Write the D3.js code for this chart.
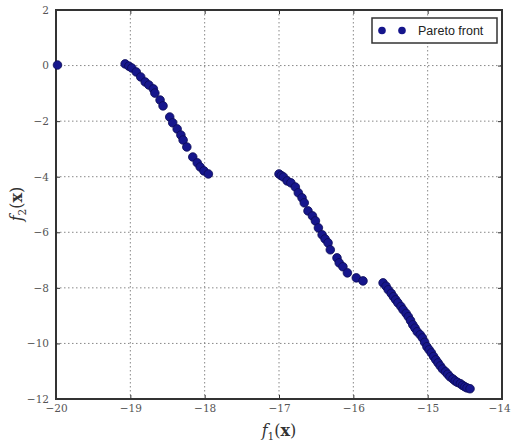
<!DOCTYPE html>
<html lang="en">
<head>
<meta charset="UTF-8">
<script src="https://d3js.org/d3.v7.min.js"></script>
<title>Pareto front</title>
<style>
  body { margin: 0; background: #fff; }
  .tick text { font-family: "DejaVu Serif", serif; font-size: 10.5px; fill: #555; }
</style>
</head>
<body>
<svg id="chart" width="512" height="444"></svg>
<script>
// values
const f1 = [-19.98,
  -19.07, -19.02, -18.98, -18.92, -18.86, -18.80, -18.75, -18.69, -18.67, -18.60, -18.56,
  -18.47, -18.43, -18.37, -18.32, -18.29, -18.24, -18.16, -18.10, -18.06, -18.01, -17.95,
  -17.00, -16.97, -16.94, -16.89, -16.84, -16.78, -16.74, -16.69, -16.66, -16.61, -16.55, -16.51,
  -16.47, -16.42, -16.38, -16.34, -16.31, -16.22, -16.19, -16.14, -16.08, -15.96, -15.87,
  -15.60, -15.56, -15.53, -15.49, -15.46, -15.43, -15.40, -15.36, -15.33, -15.29, -15.26,
  -15.23, -15.20, -15.17, -15.14, -15.10, -15.07, -15.04, -15.01, -14.98,
  -14.95, -14.92, -14.89, -14.86, -14.83, -14.80, -14.76, -14.73, -14.70, -14.66, -14.63,
  -14.60, -14.56, -14.53, -14.50, -14.47, -14.43];
const f2 = [0.02,
  0.06, -0.02, -0.09, -0.23, -0.41, -0.59, -0.70, -0.84, -0.99, -1.24, -1.45,
  -1.85, -2.06, -2.28, -2.50, -2.68, -2.93, -3.29, -3.50, -3.65, -3.79, -3.90,
  -3.90, -3.96, -4.01, -4.15, -4.22, -4.37, -4.58, -4.76, -4.94, -5.23, -5.41, -5.59,
  -5.84, -6.09, -6.24, -6.38, -6.63, -6.92, -7.10, -7.24, -7.46, -7.64, -7.75,
  -7.82, -7.94, -8.07, -8.20, -8.32, -8.43, -8.54, -8.67, -8.79, -8.92, -9.04,
  -9.18, -9.33, -9.45, -9.58, -9.69, -9.80, -9.96, -10.12, -10.23,
  -10.34, -10.47, -10.59, -10.70, -10.81, -10.92, -11.02, -11.11, -11.20, -11.28, -11.35,
  -11.40, -11.45, -11.51, -11.56, -11.60, -11.63];
const xTicks = [-20, -19, -18, -17, -16, -15, -14];
const yTicks = [-12, -10, -8, -6, -4, -2, 0, 2];
const legendLabel = "Pareto front";

const svg = d3.select("#chart");
const margin = { top: 10, right: 10, bottom: 45, left: 56 };
const width = 502 - margin.left, height = 399 - margin.top;
const g = svg.append("g").attr("transform", `translate(${margin.left},${margin.top})`);

const x = d3.scaleLinear().domain([-20, -14]).range([0, width]);
const y = d3.scaleLinear().domain([-12, 2]).range([height, 0]);

// grid
g.append("g").selectAll("line").data(xTicks.slice(1, -1)).join("line")
  .attr("x1", d => x(d)).attr("x2", d => x(d)).attr("y1", 0).attr("y2", height)
  .attr("stroke", "#888").attr("stroke-width", 1).attr("stroke-dasharray", "1.5,2.5");
g.append("g").selectAll("line").data(yTicks.slice(1, -1)).join("line")
  .attr("y1", d => y(d)).attr("y2", d => y(d)).attr("x1", 0).attr("x2", width)
  .attr("stroke", "#888").attr("stroke-width", 1).attr("stroke-dasharray", "1.5,2.5");

// axes, ticks pointing inward
const fmt = d => (d < 0 ? "\u2212" + Math.abs(d) : d);
g.append("g").attr("transform", `translate(0,${height})`)
  .call(d3.axisBottom(x).tickValues(xTicks).tickFormat(fmt).tickSizeInner(-4).tickSizeOuter(0).tickPadding(6))
  .call(a => a.select(".domain").remove())
  .call(a => a.selectAll(".tick line").attr("stroke", "#333"))
  .call(a => a.selectAll(".tick text").filter(d => d === -14).attr("dx", -3));
g.append("g")
  .call(d3.axisLeft(y).tickValues(yTicks).tickFormat(fmt).tickSizeInner(-4).tickSizeOuter(0).tickPadding(7))
  .call(a => a.select(".domain").remove())
  .call(a => a.selectAll(".tick line").attr("stroke", "#333"));
g.append("g").attr("transform", `translate(${width},0)`)
  .call(d3.axisRight(y).tickValues(yTicks).tickFormat("").tickSizeInner(-4).tickSizeOuter(0))
  .call(a => a.select(".domain").remove())
  .call(a => a.selectAll(".tick line").attr("stroke", "#333"));
g.append("g")
  .call(d3.axisTop(x).tickValues(xTicks).tickFormat("").tickSizeInner(-4).tickSizeOuter(0))
  .call(a => a.select(".domain").remove())
  .call(a => a.selectAll(".tick line").attr("stroke", "#333"));

g.append("rect").attr("width", width).attr("height", height)
  .attr("fill", "none").attr("stroke", "#333").attr("stroke-width", 2);

// points
const pts = f1.map((v, i) => [v, f2[i]]);
g.append("g").selectAll("circle").data(pts).join("circle")
  .attr("cx", d => x(d[0])).attr("cy", d => y(d[1])).attr("r", 4.3)
  .attr("fill", "#16168c").attr("stroke", "#0b0b55").attr("stroke-width", 0.8);

// legend
const lg = svg.append("g").attr("transform", "translate(372,18)");
lg.append("rect").attr("width", 125).attr("height", 25)
  .attr("fill", "#fff").attr("stroke", "#333").attr("stroke-width", 1.5);
lg.selectAll("circle").data([10, 30]).join("circle")
  .attr("cx", d => d).attr("cy", 12.5).attr("r", 3.8).attr("fill", "#16168c");
lg.append("text").attr("x", 46).attr("y", 17)
  .attr("font-family", "Liberation Sans, Arial, sans-serif").attr("font-size", 12.5)
  .attr("fill", "#222").text(legendLabel);

// axis labels
const xl = svg.append("text").attr("x", 279).attr("y", 436).attr("text-anchor", "middle")
  .attr("font-family", "DejaVu Serif, serif").attr("font-size", 16).attr("fill", "#333");
xl.append("tspan").attr("font-style", "italic").text("f");
xl.append("tspan").attr("font-size", 10.5).attr("dy", 4).text("1");
xl.append("tspan").attr("dy", -4).text("(");
xl.append("tspan").attr("font-weight", "bold").text("x");
xl.append("tspan").text(")");

const yl = svg.append("text").attr("transform", "translate(22,204) rotate(-90)").attr("text-anchor", "middle")
  .attr("font-family", "DejaVu Serif, serif").attr("font-size", 16).attr("fill", "#333");
yl.append("tspan").attr("font-style", "italic").text("f");
yl.append("tspan").attr("font-size", 10.5).attr("dy", 4).text("2");
yl.append("tspan").attr("dy", -4).text("(");
yl.append("tspan").attr("font-weight", "bold").text("x");
yl.append("tspan").text(")");
</script>
</body>
</html>
